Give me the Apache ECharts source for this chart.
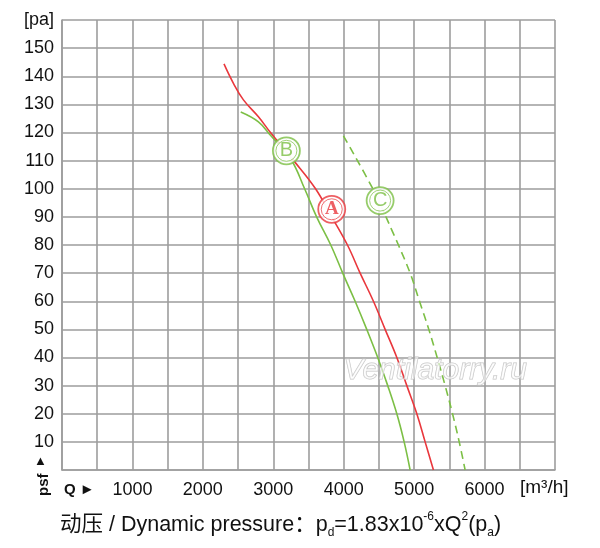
<!DOCTYPE html>
<html>
<head>
<meta charset="utf-8">
<script src="https://cdn.jsdelivr.net/npm/echarts@6.0.0/dist/echarts.min.js"></script>
<style>
  html, body { margin: 0; padding: 0; background: #fff; }
  #chart { width: 600px; height: 548px; }
</style>
</head>
<body>
<div id="chart"></div>
<script>
// curve A (red, solid)
const qA = [2300, 2434, 2576, 2789, 2960, 3290, 3600, 3830, 4053, 4233, 4422, 4588, 4754, 4896, 5038, 5156, 5274]
const pA = [144.4, 137.5, 131.6, 125.6, 120, 110, 100, 90, 80, 70, 60, 50, 40, 30, 20, 10, 0]
// curve B (green, solid)
const qB = [2538, 2789, 2960, 3250, 3445, 3615, 3816, 3986, 4162, 4327, 4483, 4625, 4754, 4858, 4943]
const pB = [127.3, 123.8, 119, 110.5, 100, 90, 80, 70, 60, 50, 40, 30, 20, 10, 0]
// curve C (green, dashed)
const qC = [3996, 4422, 4600, 4683, 4777, 4943, 5076, 5208, 5327, 5440, 5545, 5640, 5724]
const pC = [118.8, 99.6, 90, 85.3, 80, 70, 60, 50, 40, 30, 20, 10, 0]

// circled curve names
const tagNames = ['A', 'B', 'C']
const tagQ = [3830, 3186, 4517]
const tagP = [92.7, 113.5, 95.8]

const xTicks = [1000, 2000, 3000, 4000, 5000, 6000]
const yTicks = [10, 20, 30, 40, 50, 60, 70, 80, 90, 100, 110, 120, 130, 140, 150]

const RED = '#e9373c'
const GREEN = '#7cbf45'
const GRID = '#9d9d9d'
const INK = '#111'
const tagColors = [RED, GREEN, GREEN]
const sans = 'Liberation Sans, Arial, Helvetica, sans-serif'

const pairs = (q, p) => q.map((v, i) => [v, p[i]])

const chart = echarts.init(document.getElementById('chart'), null, { renderer: 'canvas' })

const option = {
    animation: false,
    backgroundColor: '#fff',
    grid: { left: 62, top: 20, width: 493, height: 450 },
    xAxis: {
        type: 'value', min: 0, max: 7000, interval: 500,
        axisLine: { show: true, lineStyle: { color: GRID, width: 1.6 } },
        axisTick: { show: false },
        splitLine: { show: true, lineStyle: { color: GRID, width: 1.6 } },
        axisLabel: {
            margin: 11, fontSize: 18, color: INK, fontFamily: sans,
            formatter: v => xTicks.indexOf(v) >= 0 ? String(v) : ''
        }
    },
    yAxis: {
        type: 'value', min: 0, max: 160, interval: 10,
        axisLine: { show: true, lineStyle: { color: GRID, width: 1.6 } },
        axisTick: { show: false },
        splitLine: { show: true, lineStyle: { color: GRID, width: 1.6 } },
        axisLabel: {
            margin: 8, fontSize: 18, color: INK, fontFamily: sans,
            formatter: v => v === 160 ? '[pa]' : (yTicks.indexOf(v) >= 0 ? String(v) : '')
        }
    },
    series: [
        {
            type: 'line', data: pairs(qA, pA), smooth: 0.4, symbol: 'none', z: 3,
            lineStyle: { color: RED, width: 1.6 }
        },
        {
            type: 'line', data: pairs(qB, pB), smooth: 0.4, symbol: 'none', z: 3,
            lineStyle: { color: GREEN, width: 1.6 }
        },
        {
            type: 'line', data: pairs(qC, pC), smooth: 0.4, symbol: 'none', z: 3,
            lineStyle: { color: GREEN, width: 1.6, type: [8, 5] }
        },
        // outer ring
        {
            type: 'scatter', symbolSize: 27, z: 5, silent: true,
            data: tagNames.map((n, i) => ({
                value: [tagQ[i], tagP[i]],
                itemStyle: { color: '#fff', borderColor: tagColors[i], borderWidth: 1.8 }
            }))
        },
        // inner ring + letter
        {
            type: 'scatter', symbolSize: 21, z: 6, silent: true,
            data: tagNames.map((n, i) => ({
                value: [tagQ[i], tagP[i]],
                itemStyle: { color: '#fff', borderColor: tagColors[i], borderWidth: 0.9 },
                label: {
                    show: true, position: 'inside', formatter: n, color: tagColors[i],
                    fontSize: n === 'A' ? 19 : 20,
                    fontWeight: n === 'A' ? 'bold' : 'normal',
                    fontFamily: n === 'A' ? 'Liberation Serif, serif' : sans
                }
            }))
        }
    ],
    graphic: [
        {
            type: 'text', left: 343, top: 355, z: 10, silent: true,
            style: {
                text: 'Ventilatorry.ru', font: 'italic 30px ' + sans,
                fill: 'rgba(255,255,255,0.55)', stroke: '#c4c4c4', lineWidth: 1
            }
        },
        {
            type: 'text', left: 64, top: 482,
            style: { text: 'Q ►', font: 'bold 15px ' + sans, fill: INK }
        },
        {
            type: 'text', left: 520, top: 478,
            style: { text: '[m³/h]', font: '19px ' + sans, fill: INK }
        },
        {
            type: 'text', left: 34, top: 455,
            style: { text: '▲', font: '13px ' + sans, fill: INK }
        },
        {
            type: 'text', x: 36, y: 496, rotation: Math.PI / 2,
            style: { text: 'psf', font: 'bold 15px ' + sans, fill: INK }
        },
        {
            type: 'text', left: 60, top: 511,
            style: {
                text: '{m|动压 / Dynamic pressure：p}{sub|d}{m|=1.83x10}{sup|-6}{m|xQ}{sup|2}{m|(p}{sub|a}{m|)}',
                rich: {
                    m: { fontSize: 21.5, fontFamily: sans + ', Noto Sans CJK SC', fill: INK, lineHeight: 28, verticalAlign: 'middle' },
                    sub: { fontSize: 12, fontFamily: sans, fill: INK, lineHeight: 28, verticalAlign: 'bottom' },
                    sup: { fontSize: 12, fontFamily: sans, fill: INK, lineHeight: 28, verticalAlign: 'top' }
                }
            }
        }
    ]
}

chart.setOption(option)
</script>
</body>
</html>
